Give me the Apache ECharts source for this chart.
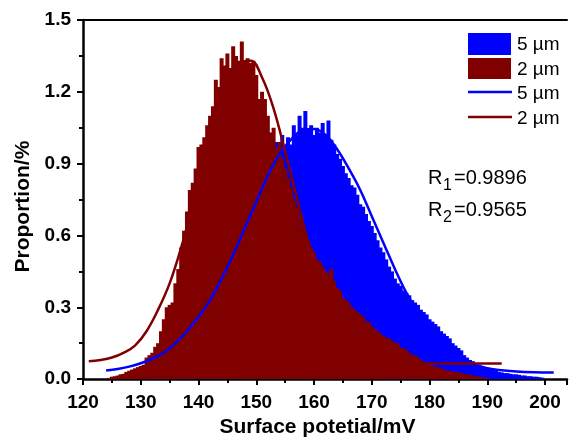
<!DOCTYPE html>
<html>
<head>
<meta charset="utf-8">
<script src="https://cdn.jsdelivr.net/npm/echarts@6/dist/echarts.min.js"></script>
<style>html,body{margin:0;padding:0;background:#fff}#c{width:570px;height:443px}</style>
</head>
<body>
<div id="c"></div>
<script>
// ---- data ----
const binWidth = 0.5; // mV
const redStart = 124.5; // 2 µm histogram first bin
const redHist = [
  0.005,
  0.01, 0.012, 0.015, 0.02, 0.022, 0.03, 0.035, 0.04, 0.045, 0.05,
  0.055, 0.06, 0.09, 0.10, 0.11, 0.135, 0.15, 0.20, 0.25, 0.30,
  0.31, 0.32, 0.40, 0.46, 0.55, 0.62, 0.70, 0.79, 0.82, 0.88,
  0.97, 0.98, 1.01, 1.06, 1.10, 1.14, 1.25, 1.22, 1.34, 1.31,
  1.36, 1.30, 1.39, 1.35, 1.33, 1.41, 1.33, 1.34, 1.32, 1.33,
  1.27, 1.17, 1.20, 1.17, 1.10, 1.03, 1.05, 0.96, 0.99, 0.92,
  0.88, 0.84, 0.80, 0.75, 0.72, 0.68, 0.64, 0.61, 0.58, 0.55,
  0.53, 0.50, 0.49, 0.47, 0.45, 0.44, 0.46, 0.41, 0.38, 0.37,
  0.34, 0.33, 0.32, 0.30, 0.29, 0.28, 0.27, 0.26, 0.24, 0.24,
  0.22, 0.21, 0.20, 0.19, 0.18, 0.17, 0.17, 0.16, 0.15, 0.15,
  0.13, 0.13, 0.12, 0.11, 0.10, 0.10, 0.09, 0.08, 0.07, 0.06,
  0.06, 0.055, 0.05, 0.05, 0.045, 0.04, 0.035, 0.035, 0.03, 0.03,
  0.028, 0.025, 0.022, 0.02, 0.018, 0.015, 0.012, 0.01, 0.008, 0.006,
  0.004
];
const blueStart = 125; // 5 µm histogram first bin
const blueHist = [
  0.005, 0.008, 0.01, 0.012, 0.015, 0.02, 0.022, 0.025, 0.03, 0.035,
  0.04, 0.045, 0.05, 0.06, 0.07, 0.08, 0.09, 0.10, 0.11, 0.12,
  0.13, 0.14, 0.15, 0.16, 0.18, 0.19, 0.20, 0.22, 0.23, 0.25,
  0.26, 0.27, 0.29, 0.31, 0.33, 0.35, 0.37, 0.39, 0.42, 0.45,
  0.47, 0.50, 0.52, 0.55, 0.58, 0.61, 0.64, 0.67, 0.69, 0.72,
  0.74, 0.77, 0.80, 0.83, 0.86, 0.92, 0.90, 0.99, 0.96, 1.02,
  0.97, 1.01, 0.98, 1.06, 1.02, 1.10, 1.05, 1.12, 1.04, 1.06,
  1.02, 1.05, 1.03, 1.07, 1.02, 1.08, 1.00, 0.98, 0.94, 0.92,
  0.89, 0.86, 0.84, 0.81, 0.80, 0.77, 0.73, 0.72, 0.69, 0.66,
  0.64, 0.61, 0.58, 0.55, 0.53, 0.50, 0.47, 0.45, 0.42, 0.40,
  0.39, 0.37, 0.36, 0.35, 0.33, 0.32, 0.31, 0.29, 0.28, 0.27,
  0.25, 0.24, 0.23, 0.22, 0.20, 0.19, 0.18, 0.17, 0.15, 0.14,
  0.13, 0.12, 0.10, 0.09, 0.08, 0.075, 0.065, 0.06, 0.055, 0.05,
  0.048, 0.045, 0.04, 0.035, 0.03, 0.028, 0.025, 0.025, 0.022, 0.02,
  0.02, 0.018, 0.015, 0.015, 0.012, 0.012, 0.01, 0.01, 0.008, 0.006
];
// Gaussian fit curves
const redFitX = [121,123,125,127,129,131,133,135,137,139,141,143,145,147,149,151,153,155,157,159,161,163,165,167,169,171,173,175,177,180,185,192.5];
const redFitY = [0.075,0.08,0.09,0.11,0.14,0.20,0.29,0.40,0.55,0.73,0.92,1.10,1.24,1.32,1.33,1.26,1.13,0.95,0.76,0.57,0.41,0.28,0.19,0.13,0.10,0.08,0.07,0.068,0.066,0.065,0.065,0.065];
const blueFitX = [124,126,128,130,132,134,136,138,140,142,144,146,148,150,152,154,156,158,160,162,164,166,168,170,172,174,176,178,180,182,184,186,188,190,192,195,198,201.5];
const blueFitY = [0.036,0.042,0.052,0.066,0.085,0.11,0.15,0.20,0.26,0.33,0.42,0.52,0.63,0.74,0.85,0.94,1.00,1.04,1.045,1.02,0.96,0.88,0.79,0.68,0.57,0.46,0.36,0.28,0.21,0.15,0.11,0.08,0.06,0.045,0.038,0.032,0.029,0.028];
const xTicks = [120,130,140,150,160,170,180,190,200];
const yTicks = [0.0,0.3,0.6,0.9,1.2,1.5];
const seriesNames = ['5 µm','2 µm'];
const rValues = ['0.9896','0.9565'];

// ---- chart ----
const BLUE = '#0000ff', RED = '#800000';
const FONT = '"Liberation Sans", Arial, sans-serif';
const chart = echarts.init(document.getElementById('c'), null, {renderer:'canvas'});
const pairs = (start, arr) => arr.map((v,i)=>[start + i*binWidth, v]);
const zip = (xs, ys) => xs.map((x,i)=>[x, ys[i]]);

const axisStyle = {lineStyle:{color:'#000', width:2.5}};
const legendX = 468, legendY = 33;
const graphic = [
  {type:'rect', shape:{x:legendX, y:legendY, width:43, height:22}, style:{fill:BLUE}},
  {type:'rect', shape:{x:legendX, y:legendY+25, width:43, height:21}, style:{fill:RED}},
  {type:'line', shape:{x1:legendX, y1:legendY+59, x2:legendX+44, y2:legendY+59}, style:{stroke:BLUE, lineWidth:2.5}},
  {type:'line', shape:{x1:legendX, y1:legendY+84, x2:legendX+44, y2:legendY+84}, style:{stroke:RED, lineWidth:2.5}}
];
[seriesNames[0], seriesNames[1], seriesNames[0], seriesNames[1]].forEach((t,i)=>{
  graphic.push({type:'text', x:517, y:legendY+12+i*24.5, style:{text:t, fill:'#000', font:'19px '+FONT, textVerticalAlign:'middle'}});
});
rValues.forEach((v,i)=>{
  const y = 178 + i*32;
  graphic.push({type:'text', x:428, y:y, style:{text:'R', fill:'#000', font:'20px '+FONT, textVerticalAlign:'middle'}});
  graphic.push({type:'text', x:443, y:y+8, style:{text:String(i+1), fill:'#000', font:'16px '+FONT, textVerticalAlign:'middle'}});
  graphic.push({type:'text', x:454, y:y, style:{text:'='+v, fill:'#000', font:'20px '+FONT, textVerticalAlign:'middle'}});
});

chart.setOption({
  animation:false,
  backgroundColor:'#fff',
  grid:{left:83, right:0, top:20, bottom:58},
  xAxis:[{
    type:'value', min:120, max:203.8, interval:10,
    name:'Surface potetial/mV', nameLocation:'middle', nameGap:36,
    nameTextStyle:{fontFamily:FONT, fontWeight:'bold', fontSize:21, color:'#000', padding:[0,15,0,0]},
    axisLine:axisStyle,
    axisTick:{length:6, lineStyle:{color:'#000', width:2}},
    minorTick:{show:true, splitNumber:2, length:4, lineStyle:{color:'#000', width:2}},
    splitLine:{show:false},
    axisLabel:{margin:14, fontFamily:FONT, fontWeight:'bold', fontSize:19, color:'#000',
      formatter:v=> xTicks.indexOf(Math.round(v))>=0 && Math.abs(v-Math.round(v))<1e-6 ? String(Math.round(v)) : ''}
  },{
    type:'value', position:'top', min:120, max:203.8,
    axisLine:{show:true, lineStyle:{color:'#000', width:2}}, axisTick:{show:false}, axisLabel:{show:false}, splitLine:{show:false}
  }],
  yAxis:{
    type:'value', min:0, max:1.5, interval:0.3,
    name:'Proportion/%', nameLocation:'middle', nameGap:48,
    nameTextStyle:{fontFamily:FONT, fontWeight:'bold', fontSize:21, color:'#000', padding:[0,14,0,0]},
    axisLine:{show:true, lineStyle:{color:'#000', width:2.5}},
    axisTick:{show:true, length:6, lineStyle:{color:'#000', width:2}},
    minorTick:{show:true, splitNumber:2, length:4, lineStyle:{color:'#000', width:2}},
    splitLine:{show:false},
    axisLabel:{margin:12, fontFamily:FONT, fontWeight:'bold', fontSize:19, color:'#000',
      formatter:v=> yTicks.some(t=>Math.abs(t-v)<1e-6) ? v.toFixed(1) : ''}
  },
  series:[
    {name:seriesNames[0]+' hist', type:'bar', data:pairs(blueStart, blueHist), barWidth:4, barGap:'-100%',
      itemStyle:{color:BLUE}, z:1, silent:true},
    {name:seriesNames[1]+' hist', type:'bar', data:pairs(redStart, redHist), barWidth:4, barGap:'-100%',
      itemStyle:{color:RED}, z:2, silent:true},
    {name:seriesNames[0]+' fit', type:'line', data:zip(blueFitX, blueFitY), smooth:0.4, showSymbol:false,
      lineStyle:{color:BLUE, width:2.5}, z:3, silent:true},
    {name:seriesNames[1]+' fit', type:'line', data:zip(redFitX, redFitY), smooth:0.4, showSymbol:false,
      lineStyle:{color:RED, width:2.5}, z:4, silent:true}
  ],
  graphic:graphic
});
</script>
</body>
</html>
